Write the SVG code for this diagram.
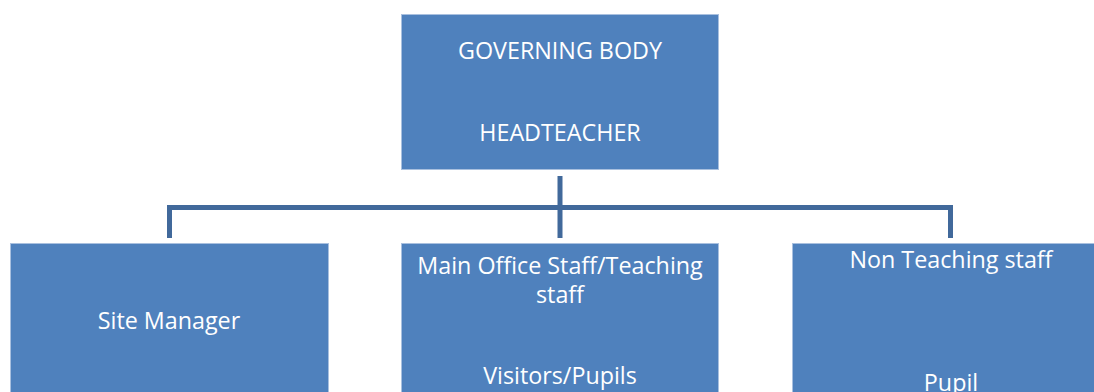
<svg xmlns="http://www.w3.org/2000/svg" width="1094" height="392" viewBox="0 0 1094 392">
<style>
.box{fill:#4F81BD;stroke:#A9C0DF;stroke-width:1}
.t{font-family:"Open Sans","Liberation Sans",sans-serif;font-size:23.3px;fill:#FFFFFF;text-anchor:middle}
.c{fill:none;stroke:#41699B;stroke-width:5;stroke-linejoin:miter;stroke-linecap:butt}
</style>
<rect width="1094" height="392" fill="#FFFFFF"/>
<g id="connectors">
<path class="c" d="M560,176 V238"/>
<path class="c" d="M169.5,238 V207.5 H950.5 V238"/>
</g>
<g id="governing-body">
<rect class="box" x="401.5" y="14.5" width="317" height="155"/>
<text class="t" x="560" y="59">GOVERNING BODY</text>
<text class="t" x="560" y="141">HEADTEACHER</text>
</g>
<g id="site-manager">
<rect class="box" x="10.5" y="243.5" width="318" height="160"/>
<text class="t" x="169" y="329">Site Manager</text>
</g>
<g id="main-office">
<rect class="box" x="401.5" y="243.5" width="317" height="160"/>
<text class="t" x="560" y="274">Main Office Staff/Teaching</text>
<text class="t" x="560" y="303">staff</text>
<text class="t" x="560" y="384">Visitors/Pupils</text>
</g>
<g id="non-teaching">
<rect class="box" x="792.5" y="243.5" width="318" height="160"/>
<text class="t" x="951" y="268">Non Teaching staff</text>
<text class="t" x="951" y="391">Pupil</text>
</g>
</svg>
